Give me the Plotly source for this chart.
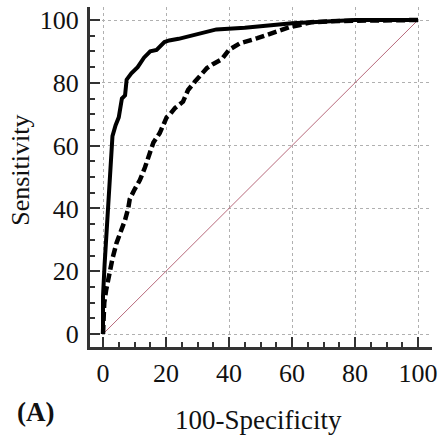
import plotly.graph_objects as go

# Solid ROC curve
solid_x = [0, 0, 0.5, 1, 1.5, 2, 2.5, 3, 4, 5, 6, 7, 7.5, 9, 11, 13, 15, 17, 19.5, 21, 24, 28, 31, 36, 45, 60, 80, 100]
solid_y = [0, 12, 22, 30, 40, 48, 57, 63, 66.5, 69, 75, 76, 81, 83, 85, 88, 90, 90.5, 93, 93.5, 94, 95, 96, 97, 97.5, 99, 100, 100]

# Dashed ROC curve
dash_x = [0, 0.4, 1, 1.5, 2.2, 3, 4.3, 5.5, 7, 8, 8.5, 10, 11.7, 13.3, 15, 16, 18, 20.2, 21.3, 22.9, 25.4, 27, 29.2,
          31.3, 33, 35, 37.7, 40, 43.5, 49, 54, 59.4, 62.5, 66, 75, 90, 100]
dash_y = [0, 10, 14, 16.5, 20.5, 24, 29, 32, 36.3, 40, 43, 46, 49, 53, 58.6, 61, 64, 69, 70, 72, 74, 77.7, 80.4,
          83, 84.7, 86, 87.5, 90.5, 92.6, 94.2, 95.8, 97.8, 98.4, 99.3, 99.7, 100, 100]

# Reference diagonal
diag_x = [0, 100]
diag_y = [0, 100]

tick_vals = [0, 20, 40, 60, 80, 100]
tick_text = ["0", "20", "40", "60", "80", "100"]

fig = go.Figure()
fig.add_trace(go.Scatter(x=diag_x, y=diag_y, mode="lines",
                         line=dict(color="#b86a7c", width=1), hoverinfo="skip"))
fig.add_trace(go.Scatter(x=dash_x, y=dash_y, mode="lines",
                         line=dict(color="black", width=4.5, dash="9px,4px")))
fig.add_trace(go.Scatter(x=solid_x, y=solid_y, mode="lines",
                         line=dict(color="black", width=4)))

font_family = "Liberation Serif, Times New Roman, serif"

axis_common = dict(
    tickvals=tick_vals, ticktext=tick_text,
    showline=True, linecolor="#333333", linewidth=3,
    ticks="inside", ticklen=10, tickwidth=2, tickcolor="#333333",
    minor=dict(ticks="inside", ticklen=5, tickwidth=1.5, tickcolor="#333333", dtick=5, showgrid=False),
    showgrid=True, gridcolor="#b0b0b0", gridwidth=1, griddash="dot",
    zeroline=False, automargin=False,
    ticklabeloverflow="allow",
    tickfont=dict(family=font_family, size=26, color="#111111"),
)

fig.update_xaxes(range=[-4.13, 104.44], ticklabelstandoff=1, **axis_common)
fig.update_yaxes(range=[-4.14, 104.14], ticklabelstandoff=3, **axis_common)

fig.update_layout(
    width=439, height=444, autosize=False,
    margin=dict(l=90, r=7, t=7, b=97),
    plot_bgcolor="white", paper_bgcolor="white",
    showlegend=False,
    font=dict(family=font_family, color="#111111"),
    annotations=[
        dict(text="Sensitivity", xref="paper", yref="paper", x=-0.202, y=0.521, showarrow=False,
             textangle=-90, font=dict(size=26, family=font_family, color="#111111"),
             xanchor="center", yanchor="middle"),
        dict(text="100-Specificity", xref="paper", yref="paper", x=0.494, y=-0.215, showarrow=False,
             font=dict(size=27, family=font_family, color="#111111"),
             xanchor="center", yanchor="middle"),
        dict(text="<b>(A)</b>", xref="paper", yref="paper", x=-0.158, y=-0.191, showarrow=False,
             font=dict(size=27, family=font_family, color="#111111"),
             xanchor="center", yanchor="middle"),
    ],
)

# Remove the default page margin so the 439x444 figure fills the window exactly.
fig.write_html("out.html",
               config={"responsive": False, "displayModeBar": False},
               post_script="document.body.style.margin='0';document.body.style.overflow='hidden';")
